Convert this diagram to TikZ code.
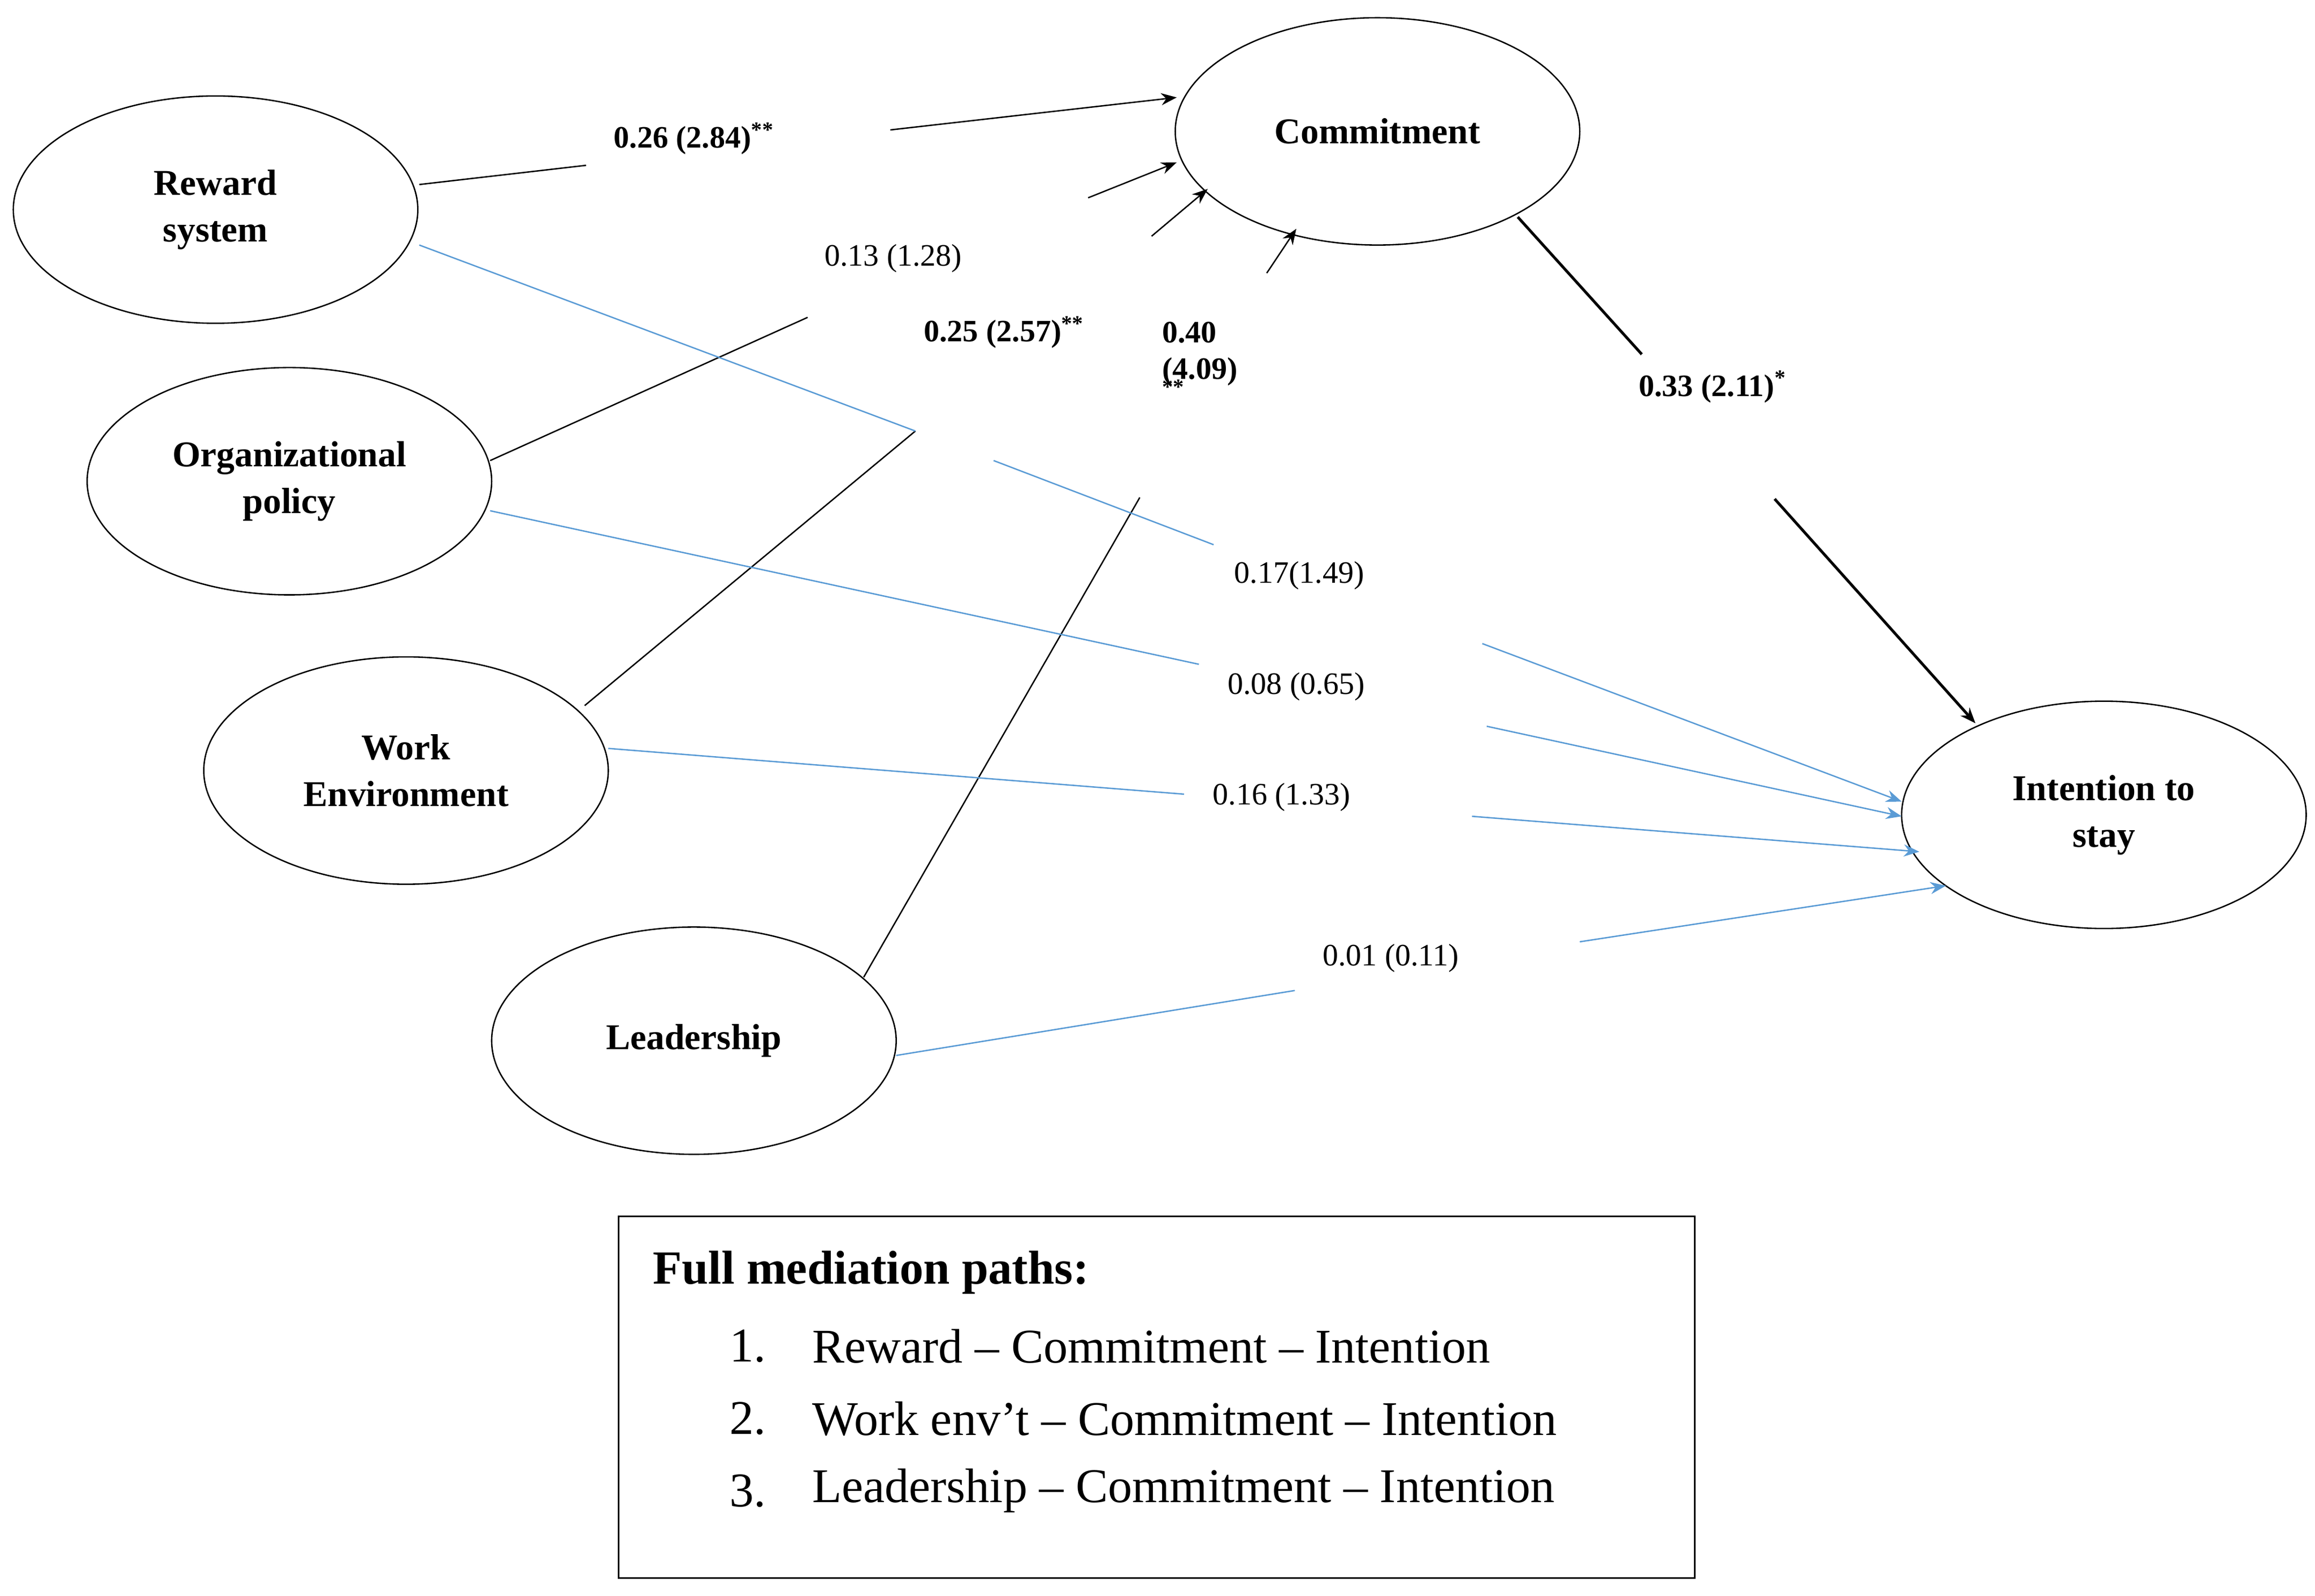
\documentclass[tikz,border=0pt]{standalone}
\usepackage{fontspec}
\setmainfont{Liberation Serif}
\usetikzlibrary{arrows.meta,shapes.geometric}
\begin{document}
\begin{tikzpicture}[x=0.03cm,y=-0.03cm,
  ell/.style={draw,ellipse,minimum width=274*0.03cm,minimum height=154*0.03cm,line width=0.8pt,font=\fontsize{21}{27}\selectfont\bfseries,align=center},
  bl/.style={line width=0.8pt},
  bu/.style={line width=0.8pt,color={rgb,255:red,90;green,155;blue,213}},
  ar/.style={-{Stealth[length=9pt,width=7pt]}},
  lab/.style={font=\fontsize{18}{21}\selectfont,align=left},
  blab/.style={font=\fontsize{18}{21}\selectfont\bfseries,align=left}]
\useasboundingbox (0,0) rectangle (1568,1081);
\node[ell] (rw) at (146,142) {Reward\\system};
\node[ell] (op) at (196,326) {Organizational\\policy};
\node[ell] (we) at (275,522) {Work\\Environment};
\node[ell] (ld) at (470,705) {Leadership};
\node[ell] (cm) at (933,89) {Commitment};
\node[ell] (it) at (1425,552) {Intention to\\stay};
% black paths
\coordinate (a1) at (284,125); \coordinate (a2) at (397,112); \coordinate (a3) at (603,88); \coordinate (a4) at (797,66);
\coordinate (b1) at (332,312); \coordinate (b2) at (547,215); \coordinate (b3) at (737,134); \coordinate (b4) at (797,110);
\coordinate (c1) at (396,478); \coordinate (c2) at (620,292); \coordinate (c3) at (780,160); \coordinate (c4) at (818,128);
\coordinate (d1) at (585,662); \coordinate (d2) at (772,337); \coordinate (d3) at (858,185); \coordinate (d4) at (878,155);
\coordinate (e1) at (1028,147); \coordinate (e2) at (1112,240); \coordinate (e3) at (1202,338); \coordinate (e4) at (1338,490);
\draw[bl] (a1)--(a2); \draw[bl,ar] (a3)--(a4);
\draw[bl] (b1)--(b2); \draw[bl,ar] (b3)--(b4);
\draw[bl] (c1)--(c2); \draw[bl,ar] (c3)--(c4);
\draw[bl] (d1)--(d2); \draw[bl,ar] (d3)--(d4);
\draw[line width=1.6pt] (e1)--(e2); \draw[line width=1.6pt,ar] (e3)--(e4);
\node[blab] (la) at (470,94) {0.26 (2.84)\textsuperscript{**}};
\node[lab] (lb) at (605,175) {0.13 (1.28)};
\node[blab] (lc) at (680,225) {0.25 (2.57)\textsuperscript{**}};
\node[blab,anchor=north west,inner sep=0pt] (ld2) at (787,218) {0.40\\(4.09)\\[-6pt]\textsuperscript{**}};
\node[blab] (le) at (1160,262) {0.33 (2.11)\textsuperscript{*}};
% blue paths
\coordinate (f1) at (284,166); \coordinate (f2) at (620,292); \coordinate (f3) at (673,312); \coordinate (f4) at (822,369);
\coordinate (f5) at (1004,436); \coordinate (f6) at (1288,543);
\coordinate (g1) at (332,346); \coordinate (g2) at (812,450); \coordinate (g3) at (1007,492); \coordinate (g4) at (1288,553);
\coordinate (h1) at (412,507); \coordinate (h2) at (802,538); \coordinate (h3) at (997,553); \coordinate (h4) at (1300,577);
\coordinate (k1) at (607,715); \coordinate (k2) at (877,671); \coordinate (k3) at (1070,638); \coordinate (k4) at (1318,600);
\draw[bu] (f1)--(f2); \draw[bu] (f3)--(f4); \draw[bu,ar] (f5)--(f6);
\draw[bu] (g1)--(g2); \draw[bu,ar] (g3)--(g4);
\draw[bu] (h1)--(h2); \draw[bu,ar] (h3)--(h4);
\draw[bu] (k1)--(k2); \draw[bu,ar] (k3)--(k4);
\node[lab] (lf) at (880,390) {0.17(1.49)};
\node[lab] (lg) at (878,465) {0.08 (0.65)};
\node[lab] (lh) at (868,540) {0.16 (1.33)};
\node[lab] (lk) at (942,649) {0.01 (0.11)};
% legend
\draw[line width=0.8pt] (419,824) rectangle (1148,1069);
\node[anchor=west,font=\fontsize{27.5}{30}\selectfont\bfseries] (lt) at (438,862) {Full mediation paths:};
\begin{scope}[every node/.style={font=\fontsize{28}{30}\selectfont}]
\node[anchor=west] (n1) at (490,912) {1.};
\node[anchor=west] (t1) at (546,912) {Reward -- Commitment -- Intention};
\node[anchor=west] (n2) at (490,961) {2.};
\node[anchor=west] (t2) at (546,961) {Work env’t -- Commitment -- Intention};
\node[anchor=west] (n3) at (490,1010) {3.};
\node[anchor=west] (t3) at (546,1010) {Leadership -- Commitment -- Intention};
\end{scope}
\end{tikzpicture}
\end{document}
